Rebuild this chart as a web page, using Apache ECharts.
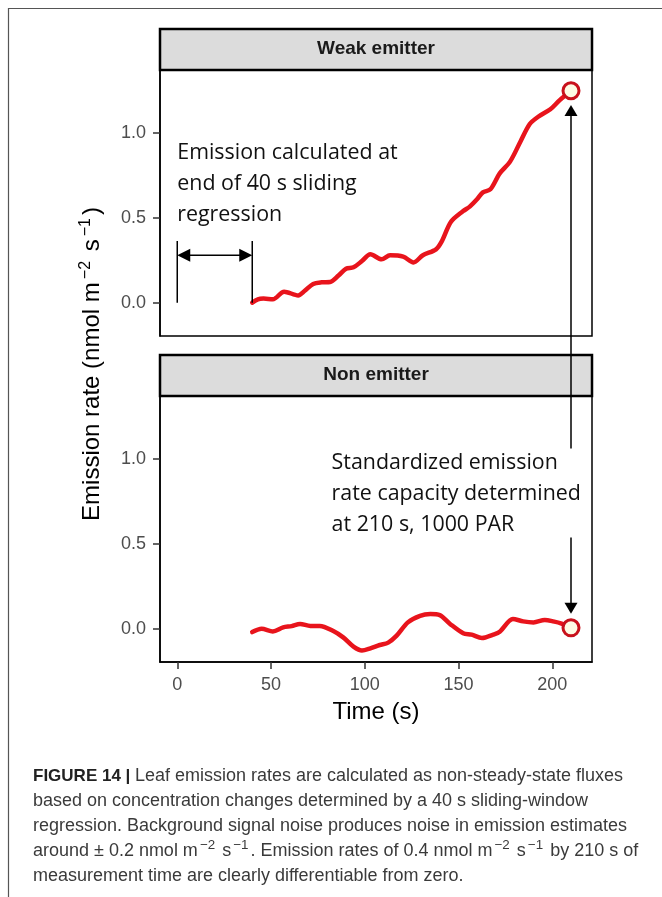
<!DOCTYPE html>
<html>
<head>
<meta charset="utf-8">
<script src="https://cdn.jsdelivr.net/npm/echarts@6/dist/echarts.min.js"></script>
<style>
  html, body { margin: 0; padding: 0; background: #fff; }
  #chart { width: 662px; height: 897px; }
</style>
</head>
<body>
<div id="chart"></div>
<script>
// Emission rate (nmol m-2 s-1) against time (s), one trace per leaf
const weakTime = [40, 43, 46, 51, 57, 64.5, 68, 72.5, 77, 81.5, 86, 90, 94, 98.5, 103, 109, 113.5, 120.5, 126, 131, 138, 141, 146, 152.5, 156, 160, 163, 167, 172, 177.5, 183, 188, 192.5, 199, 204, 210];
const weakRate = [0.0, 0.02, 0.024, 0.02, 0.065, 0.043, 0.07, 0.11, 0.12, 0.122, 0.16, 0.2, 0.208, 0.245, 0.285, 0.255, 0.279, 0.271, 0.237, 0.279, 0.314, 0.359, 0.476, 0.539, 0.565, 0.61, 0.649, 0.667, 0.761, 0.83, 0.947, 1.051, 1.094, 1.138, 1.192, 1.247];

const nonTime = [40, 45, 51, 56.5, 61, 65.5, 71, 76, 83, 88.5, 94, 98.5, 103, 108, 112.5, 117, 123, 129.5, 135, 140, 145.5, 152.5, 157, 162.5, 168.5, 172, 179, 184.5, 190, 196, 200.5, 205, 210];
const nonRate = [-0.02, 0.0, -0.016, 0.008, 0.015, 0.028, 0.016, 0.016, -0.012, -0.051, -0.106, -0.129, -0.116, -0.096, -0.082, -0.041, 0.037, 0.076, 0.086, 0.08, 0.028, -0.027, -0.035, -0.055, -0.035, -0.018, 0.057, 0.043, 0.037, 0.051, 0.043, 0.03, 0.005];

const panelTitles = ['Weak emitter', 'Non emitter'];
const xTicks = [0, 50, 100, 150, 200];
const yTicks = [0, 0.5, 1.0];
const windowLength = 40;    // sliding regression window (s)
const standardTime = 210;   // time at which capacity is read (s)

// ---- layout ----
const X_MIN = -9.2, X_MAX = 221.2, Y_MIN = -0.196, Y_MAX = 1.369;
const PANEL_LEFT = 160, PANEL_W = 432, PANEL_H = 266;
const PANEL_TOPS = [70, 396];
const STRIP_H = 41;
const LINE_RED = '#e8141c';
const SANS = '"Liberation Sans", Arial, sans-serif';
const NOTE_FONT = '"Open Sans", sans-serif';

const chart = echarts.init(document.getElementById('chart'), null, { renderer: 'canvas' });

const pairs = (xs, ys) => xs.map((x, i) => [x, ys[i]]);

function xAxisFor(g, labelled) {
  return {
    type: 'value', gridIndex: g, min: X_MIN, max: X_MAX,
    axisLine: { show: labelled, onZero: false, lineStyle: { color: '#000', width: 1.5 } },
    axisTick: labelled
      ? { show: true, customValues: xTicks, length: 7, lineStyle: { color: '#333', width: 1.5 } }
      : { show: false },
    axisLabel: labelled
      ? { show: true, customValues: xTicks, margin: 14, color: '#4d4d4d', fontSize: 18, fontFamily: SANS }
      : { show: false },
    splitLine: { show: false },
    name: labelled ? 'Time (s)' : '',
    nameLocation: 'middle',
    nameGap: 38,
    nameTextStyle: { color: '#000', fontSize: 24, fontFamily: SANS }
  };
}

function yAxisFor(g) {
  return {
    type: 'value', gridIndex: g, min: Y_MIN, max: Y_MAX,
    axisLine: { show: true, onZero: false, lineStyle: { color: '#000', width: 1.5 } },
    axisTick: { show: true, customValues: yTicks, length: 7, lineStyle: { color: '#333', width: 1.5 } },
    axisLabel: {
      show: true, customValues: yTicks, margin: 14, color: '#4d4d4d', fontSize: 18, fontFamily: SANS,
      formatter: v => v.toFixed(1)
    },
    splitLine: { show: false }
  };
}

function traceSeries(g, xs, ys) {
  return {
    type: 'line', xAxisIndex: g, yAxisIndex: g,
    data: pairs(xs, ys),
    showSymbol: false, smooth: 0.3,
    lineStyle: { color: LINE_RED, width: 4.5, cap: 'round', join: 'round' },
    emphasis: { disabled: true },
    z: 3
  };
}

function capacitySeries(g, xs, ys) {
  return {
    type: 'scatter', xAxisIndex: g, yAxisIndex: g,
    data: [[xs[xs.length - 1], ys[ys.length - 1]]],
    symbol: 'circle', symbolSize: 16,
    itemStyle: { color: '#fdfbe4', borderColor: '#c8111b', borderWidth: 3, opacity: 1 },
    emphasis: { disabled: true },
    z: 5
  };
}

chart.setOption({
  animation: false,
  backgroundColor: '#fff',
  grid: PANEL_TOPS.map(top => ({
    left: PANEL_LEFT, top: top, width: PANEL_W, height: PANEL_H,
    show: true, borderColor: '#000', borderWidth: 1.5, backgroundColor: '#fff'
  })),
  xAxis: [xAxisFor(0, false), xAxisFor(1, true)],
  yAxis: [yAxisFor(0), yAxisFor(1)],
  series: [
    traceSeries(0, weakTime, weakRate),
    traceSeries(1, nonTime, nonRate),
    capacitySeries(0, weakTime, weakRate),
    capacitySeries(1, nonTime, nonRate)
  ]
});

// ---- annotations placed through the panels' scales ----
const px = (g, pt) => chart.convertToPixel({ gridIndex: g }, pt);

function segment(a, b, width) {
  return {
    type: 'line', z: 50, silent: true,
    shape: { x1: a[0], y1: a[1], x2: b[0], y2: b[1] },
    style: { stroke: '#000', lineWidth: width || 1.5 }
  };
}

// filled arrow head with its tip at `tip`, pointing away from `from`
function head(tip, from, len, w) {
  const dx = tip[0] - from[0], dy = tip[1] - from[1];
  const d = Math.hypot(dx, dy), ux = dx / d, uy = dy / d;
  const bx = tip[0] - ux * len, by = tip[1] - uy * len;
  return {
    type: 'polygon', z: 51, silent: true,
    shape: { points: [tip, [bx - uy * w / 2, by + ux * w / 2], [bx + uy * w / 2, by - ux * w / 2]] },
    style: { fill: '#000' }
  };
}

const graphics = [];

// page frame
graphics.push({ type: 'line', silent: true, shape: { x1: 8, y1: 8.5, x2: 662, y2: 8.5 }, style: { stroke: '#555', lineWidth: 1.2 } });
graphics.push({ type: 'line', silent: true, shape: { x1: 8.5, y1: 8, x2: 8.5, y2: 897 }, style: { stroke: '#555', lineWidth: 1.2 } });

// facet strips
panelTitles.forEach((title, g) => {
  const tl = px(g, [X_MIN, Y_MAX]);
  const br = px(g, [X_MAX, Y_MIN]);
  graphics.push({
    type: 'rect', z: 40, silent: true,
    shape: { x: tl[0], y: tl[1] - STRIP_H, width: br[0] - tl[0], height: STRIP_H },
    style: { fill: '#dcdcdc', stroke: '#000', lineWidth: 2.5 }
  });
  graphics.push({
    type: 'text', z: 41, silent: true,
    x: (tl[0] + br[0]) / 2, y: tl[1] - STRIP_H / 2 - 1,
    style: { text: title, align: 'center', verticalAlign: 'middle', fill: '#1a1a1a', font: 'bold 19px ' + SANS }
  });
});

// sliding-window marker in the top panel
const barTop = 0.363, barMid = 0.279;
const b0a = px(0, [0, 0]), b0b = px(0, [0, barTop]);
const b1a = px(0, [windowLength, 0]), b1b = px(0, [windowLength, barTop]);
graphics.push(segment(b0a, b0b), segment(b1a, b1b));
const dL = px(0, [0, barMid]), dR = px(0, [windowLength, barMid]);
graphics.push(segment([dL[0] + 12, dL[1]], [dR[0] - 12, dR[1]]));
graphics.push(head(dL, dR, 13, 13), head(dR, dL, 13, 13));

// long arrow from the lower panel up to the weak emitter's capacity point
const upTip = px(0, [standardTime, 1.163]);
const upFrom = px(1, [standardTime, 1.06]);
graphics.push(segment(upFrom, [upTip[0], upTip[1] + 10]));
graphics.push(head(upTip, upFrom, 11, 13));

// short arrow down to the non emitter's capacity point
const dnTip = px(1, [standardTime, 0.088]);
const dnFrom = px(1, [standardTime, 0.537]);
graphics.push(segment(dnFrom, [dnTip[0], dnTip[1] - 10]));
graphics.push(head(dnTip, dnFrom, 11, 13));

// explanatory notes
const NOTE_LH = 31;
const n1 = px(0, [0, 0.882]);
graphics.push({
  type: 'text', z: 45, silent: true, x: n1[0], y: n1[1] - NOTE_LH / 2,
  style: {
    text: 'Emission calculated at\nend of 40 s sliding\nregression',
    align: 'left', verticalAlign: 'top', lineHeight: NOTE_LH,
    fill: '#111', font: '21.4px ' + NOTE_FONT
  }
});
const n2 = px(1, [82.3, 0.978]);
graphics.push({
  type: 'text', z: 45, silent: true, x: n2[0], y: n2[1] - NOTE_LH / 2,
  style: {
    text: 'Standardized emission\nrate capacity determined\nat 210 s, 1000 PAR',
    align: 'left', verticalAlign: 'top', lineHeight: NOTE_LH,
    fill: '#111', font: '21.4px ' + NOTE_FONT
  }
});

// shared y-axis title
graphics.push({
  type: 'text', z: 45, silent: true, x: 92, y: 364, rotation: Math.PI / 2,
  style: {
    text: 'Emission rate (nmol m{s|\u22122} s{s|\u22121})',
    align: 'center', verticalAlign: 'middle',
    fill: '#000', fontSize: 24, fontFamily: SANS, lineHeight: 28,
    rich: { s: { fontSize: 16, fontFamily: SANS, lineHeight: 15, verticalAlign: 'top', fill: '#000', padding: [0, 3, 0, 3] } }
  }
});

// figure caption: bold label at natural width, body text fitted so the first line ends at CAP_RIGHT
const CAP_FONT = '"Liberation Sans", Arial, sans-serif';
const CAP_SIZE = 17.5;
const CAP_LEFT = 33, CAP_TOP = 764, CAP_RIGHT = 623, CAP_LH = 25;
const capBold = 'FIGURE 14 |';
const capFirst = 'Leaf emission rates are calculated as non-steady-state fluxes';
const capBody = [
  'based on concentration changes determined by a 40 s sliding-window',
  'regression. Background signal noise produces noise in emission estimates',
  'around \u00b1 0.2 nmol m{s|\u22122} s{s|\u22121}. Emission rates of 0.4 nmol m{s|\u22122} s{s|\u22121} by 210 s of',
  'measurement time are clearly differentiable from zero.'
].join('\n');

const meas = document.createElement('canvas').getContext('2d');
meas.font = 'bold 17px ' + CAP_FONT;
const boldW = meas.measureText(capBold + ' ').width;
meas.font = CAP_SIZE + 'px ' + CAP_FONT;
const firstW = meas.measureText(capFirst).width;
const capScale = (CAP_RIGHT - CAP_LEFT - boldW) / firstW;

const capRich = { s: { fontSize: 13, fontFamily: CAP_FONT, lineHeight: 13, verticalAlign: 'top', fill: '#3a3a3a', padding: [0, 2, 0, 2] } };
graphics.push({
  type: 'text', z: 45, silent: true, x: CAP_LEFT, y: CAP_TOP,
  style: { text: capBold, align: 'left', verticalAlign: 'top', lineHeight: CAP_LH, fill: '#222', font: 'bold 17px ' + CAP_FONT }
});
graphics.push({
  type: 'text', z: 45, silent: true, x: CAP_LEFT + boldW, y: CAP_TOP, scaleX: capScale,
  style: { text: capFirst, align: 'left', verticalAlign: 'top', lineHeight: CAP_LH, fill: '#3a3a3a', fontSize: CAP_SIZE, fontFamily: CAP_FONT }
});
graphics.push({
  type: 'text', z: 45, silent: true, x: CAP_LEFT, y: CAP_TOP + CAP_LH, scaleX: capScale,
  style: {
    text: capBody, align: 'left', verticalAlign: 'top', lineHeight: CAP_LH,
    fill: '#3a3a3a', fontSize: CAP_SIZE, fontFamily: CAP_FONT, rich: capRich
  }
});

chart.setOption({ graphic: { elements: graphics } });
</script>
</body>
</html>
